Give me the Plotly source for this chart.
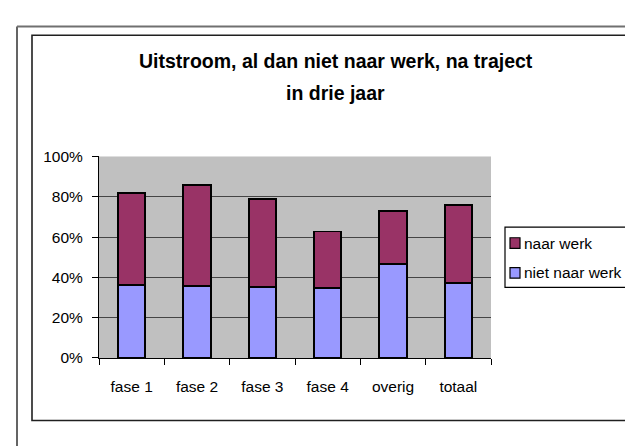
import plotly.graph_objects as go

categories = ["fase 1", "fase 2", "fase 3", "fase 4", "overig", "totaal"]
niet_naar_werk = [36.2, 35.7, 35.1, 34.6, 46.5, 37.3]
naar_werk = [45.7, 50.2, 43.6, 28.2, 26.3, 38.5]
y_ticks = [0, 20, 40, 60, 80, 100]
y_tick_labels = ["0%", "20%", "40%", "60%", "80%", "100%"]
series_names = ["naar werk", "niet naar werk"]
series_colors = {"naar werk": "#993366", "niet naar werk": "#9999FF"}

W, H = 633, 446
FONT = "Liberation Sans, Arial, sans-serif"
TXT = 15.5

def px(x):
    return x / W

def py(y):
    return 1 - y / H

fig = go.Figure()
fig.add_trace(go.Bar(
    x=categories, y=niet_naar_werk, name="niet naar werk", showlegend=False,
    marker=dict(color=series_colors["niet naar werk"], line=dict(color="black", width=1.8)),
))
fig.add_trace(go.Bar(
    x=categories, y=naar_werk, name="naar werk", showlegend=False,
    marker=dict(color=series_colors["naar werk"], line=dict(color="black", width=1.8)),
))

shapes = [
    # outer page frame
    dict(type="line", xref="paper", yref="paper", x0=px(9), x1=px(9), y0=py(10), y1=0,
         line=dict(color="#303030", width=1.5)),
    dict(type="line", xref="paper", yref="paper", x0=px(9), x1=1, y0=py(10), y1=py(10),
         line=dict(color="#707070", width=2)),
    # chart area border
    dict(type="rect", xref="paper", yref="paper", x0=px(24), x1=px(623.5), y0=py(19), y1=py(419.5),
         line=dict(color="#202020", width=1.6), fillcolor="rgba(0,0,0,0)", layer="below"),
    # legend box
    dict(type="rect", xref="paper", yref="paper", x0=px(497), x1=px(619), y0=py(218.5), y1=py(281),
         line=dict(color="black", width=1.2), fillcolor="white"),
]
annotations = [
    dict(text="<b>Uitstroom, al dan niet naar werk, na traject</b>",
         x=px(328), y=py(46), xref="paper", yref="paper", xanchor="center", yanchor="middle",
         showarrow=False, font=dict(size=19.5, family=FONT)),
    dict(text="<b>in drie jaar</b>",
         x=px(328), y=py(79), xref="paper", yref="paper", xanchor="center", yanchor="middle",
         showarrow=False, font=dict(size=19.5, family=FONT)),
]
legend_rows_y = [235, 266]
for name, ry in zip(series_names, legend_rows_y):
    shapes.append(dict(type="rect", xref="paper", yref="paper",
                       x0=px(502), x1=px(512), y0=py(ry - 5.5), y1=py(ry + 5.5),
                       line=dict(color="black", width=1.2), fillcolor=series_colors[name]))
    annotations.append(dict(text=name, x=px(514), y=py(ry), xref="paper", yref="paper",
                            xanchor="left", yanchor="middle", showarrow=False,
                            font=dict(size=TXT, family=FONT)))

fig.update_layout(
    width=W, height=H,
    barmode="stack", bargap=0.58,
    margin=dict(l=0, r=0, t=0, b=0),
    paper_bgcolor="white", plot_bgcolor="#C0C0C0",
    font=dict(family=FONT, color="black", size=TXT),
    showlegend=False,
    xaxis=dict(
        domain=[px(91), px(483)],
        showline=True, linecolor="black", linewidth=1.2,
        ticks="outside", ticklen=6, tickcolor="black", tickson="boundaries",
        tickfont=dict(size=TXT), showgrid=False, ticklabelstandoff=14,
    ),
    yaxis=dict(
        domain=[py(354.5), py(145)],
        range=[0, 100], tickvals=y_ticks, ticktext=y_tick_labels,
        showline=True, linecolor="black", linewidth=1.2,
        ticks="outside", ticklen=6, tickcolor="black",
        showgrid=True, gridcolor="#454545", gridwidth=1,
        tickfont=dict(size=TXT), zeroline=False, ticklabelstandoff=6,
    ),
    annotations=annotations,
    shapes=shapes,
)

fig.write_html("out.html")
